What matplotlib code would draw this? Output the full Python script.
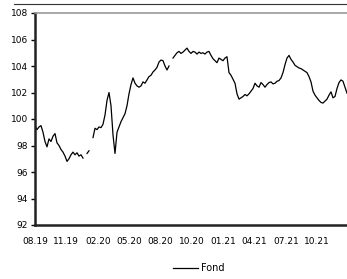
import numpy as np
import matplotlib
matplotlib.use("Agg")
import matplotlib.pyplot as plt
from matplotlib.lines import Line2D

# Fund value, sampled along the period (NaN = missing data)
fond = [
    99.5, 99.2, 99.4, 99.5, 99.0, 98.3, 97.9, 98.5, 98.3, 98.7,
    98.9, 98.2, 98.0, 97.7, 97.5, 97.2, 96.8, 97.0, 97.3, 97.5,
    97.3, 97.45, 97.2, 97.3, 97.05, np.nan, 97.4, 97.6, np.nan, 98.6,
    99.3, 99.2, 99.4, 99.35, 99.6, 100.3, 101.4, 102.0, 101.0, 98.8,
    97.4, 99.0, 99.4, 99.8, 100.1, 100.4, 101.0, 101.9, 102.6, 103.1,
    102.7, 102.5, 102.4, 102.5, 102.8, 102.7, 102.95, 103.2, 103.3, 103.55,
    103.7, 103.9, 104.3, 104.45, 104.4, 104.0, 103.7, 104.0, np.nan, 104.6,
    104.8, 105.0, 105.1, 104.95, 105.05, 105.2, 105.35, 105.1, 104.95, 105.1,
    105.05, 104.9, 105.05, 104.95, 105.0, 104.9, 105.05, 105.1, 104.8, 104.55,
    104.4, 104.25, 104.6, 104.5, 104.4, 104.6, 104.7, 103.5, 103.3, 103.0,
    102.7, 101.9, 101.5, 101.6, 101.7, 101.85, 101.75, 101.9, 102.1, 102.3,
    102.7, 102.5, 102.4, 102.75, 102.6, 102.4, 102.6, 102.75, 102.8, 102.65,
    102.7, 102.85, 102.9, 103.1, 103.5, 104.1, 104.6, 104.8, 104.5, 104.3,
    104.05, 103.95, 103.85, 103.8, 103.7, 103.6, 103.5, 103.2, 102.8, 102.1,
    101.8, 101.6, 101.4, 101.25, 101.2, 101.35, 101.5, 101.8, 102.05, 101.6,
    101.7, 102.3, 102.75, 102.95, 102.85, 102.4, 101.95,
]
tick_labels = ["08.19", "11.19", "02.20", "05.20", "08.20",
               "10.20", "01.21", "04.21", "07.21", "10.21"]
y_ticks = [92, 94, 96, 98, 100, 102, 104, 106, 108]

plt.rcParams['font.family'] = ['Liberation Sans Narrow', 'DejaVu Sans']

fig = plt.figure(figsize=(3.47, 2.79), dpi=100)
ax = fig.add_axes([35 / 347, 1 - 225 / 279, 1 - 35 / 347, (225 - 13) / 279])

x = np.arange(len(fond))
ax.plot(x, fond, color='black', linewidth=0.9, label='Fond')

ax.set_xlim(0, len(fond) - 1)
ax.set_ylim(92, 108)
ax.set_yticks(y_ticks)
ax.set_yticklabels([str(v) for v in y_ticks], fontsize=6.5)
step = (len(fond) - 1) / 9.95
ax.set_xticks([i * step for i in range(len(tick_labels))])
ax.set_xticklabels(tick_labels, fontsize=6.5)
ax.tick_params(axis='x', length=0, pad=9)
ax.tick_params(axis='y', length=3, width=1, pad=2)

for side in ['left', 'bottom']:
    ax.spines[side].set_linewidth(1.8)
    ax.spines[side].set_color('#222222')
ax.spines['top'].set_color('#999999')
ax.spines['top'].set_linewidth(1.2)
ax.spines['right'].set_visible(False)

# thin rule across the very top of the picture
fig.add_artist(Line2D([14 / 347, 1], [1 - 4 / 279, 1 - 4 / 279],
                      transform=fig.transFigure, color='#333333', linewidth=0.8))

fig.legend(loc='center', bbox_to_anchor=(199 / 347, 1 - 268 / 279),
           frameon=False, fontsize=7, handlelength=2.6, handletextpad=0.3)

fig.savefig('out.png', dpi=100)
plt.close(fig)
